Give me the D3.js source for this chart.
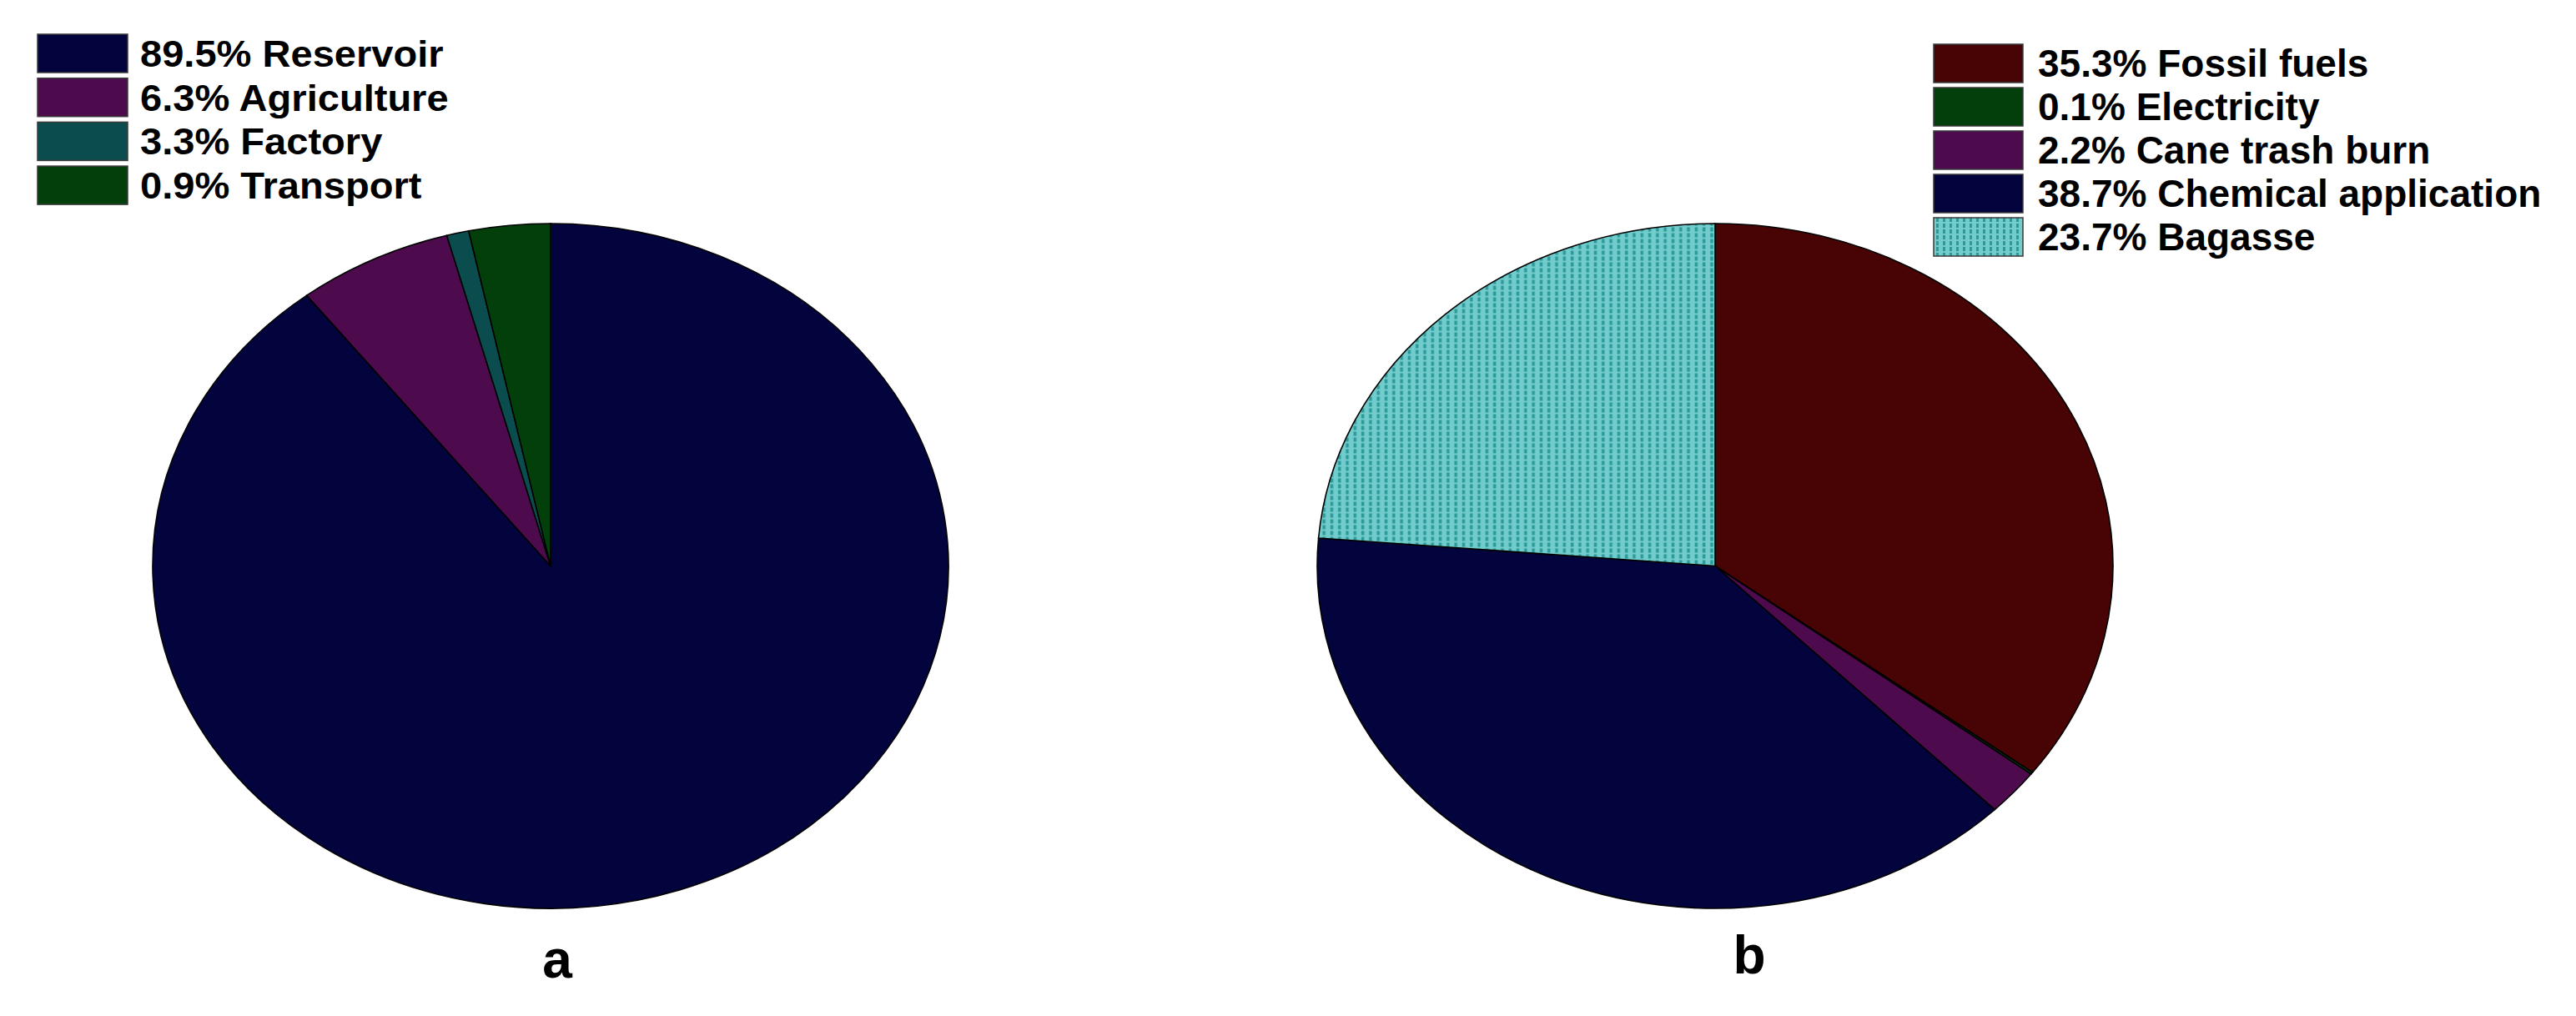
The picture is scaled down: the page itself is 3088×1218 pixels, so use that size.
<!DOCTYPE html>
<html>
<head>
<meta charset="utf-8">
<script src="https://cdn.jsdelivr.net/npm/d3@7"></script>
<style>
  html, body { margin: 0; padding: 0; background: #fff; }
  svg text { font-family: "Liberation Sans", Arial, sans-serif; font-weight: bold; fill: #000; }
</style>
</head>
<body>
<div id="chart"></div>
<script>
// PANEL A DATA
var labelsA = ["Reservoir", "Agriculture", "Factory", "Transport"];
var valuesA = [89.5, 6.3, 3.3, 0.9];
// order the slices appear clockwise from 12 o'clock (index into labelsA)
var sliceOrderA = [0, 1, 3, 2];

// PANEL B DATA
var labelsB = ["Fossil fuels", "Electricity", "Cane trash burn", "Chemical application", "Bagasse"];
var valuesB = [35.3, 0.1, 2.2, 38.7, 23.7];

var panelNames = ["a", "b"];

// SIZES
var width = 3088;
var height = 1218;
var rx = 477, ry = 410.5;

// colours by position (legend row i and i-th slice share a colour)
var colorsA = ["#03033e", "#4d0a4d", "#0b4c4e", "#033f0b"];
var colorsB = ["#480405", "#033f0b", "#4d0a4d", "#03033e", "url(#bagasse)"];

var svg = d3.select('#chart')
  .append('svg')
  .attr('width', width)
  .attr('height', height);

// dotted fill used for the bagasse slice
var defs = svg.append('defs');
var pat = defs.append('pattern')
  .attr('id', 'bagasse')
  .attr('patternUnits', 'userSpaceOnUse')
  .attr('width', 8)
  .attr('height', 7);
pat.append('rect').attr('width', 8).attr('height', 7).attr('fill', '#72cccc');
pat.append('rect').attr('x', 3).attr('y', 0).attr('width', 3).attr('height', 5).attr('fill', '#2c9a9a');

var pie = d3.pie()
  .sort(null)
  .value(function (d) { return d.value; });

var arc = d3.arc()
  .innerRadius(0)
  .outerRadius(ry);

function drawPie(cx, cy, slices, colors) {
  var g = svg.append('g')
    .attr('transform', 'translate(' + cx + ',' + cy + ') scale(' + (rx / ry) + ',1)');
  g.selectAll('path')
    .data(pie(slices))
    .enter()
    .append('path')
    .attr('d', arc)
    .attr('fill', function (d, i) { return colors[i]; })
    .attr('stroke', '#000')
    .attr('stroke-width', 1.6)
    .attr('vector-effect', 'non-scaling-stroke');
}

function drawLegend(x, y, labels, values, colors, opt) {
  var g = svg.append('g').attr('transform', 'translate(' + x + ',' + y + ')');
  var rows = g.selectAll('g')
    .data(labels)
    .enter()
    .append('g')
    .attr('transform', function (d, i) { return 'translate(0,' + (i * opt.pitch) + ')'; });
  rows.append('rect')
    .attr('width', opt.boxW)
    .attr('height', opt.boxH)
    .attr('fill', function (d, i) { return colors[i]; })
    .attr('stroke', '#3a3a3a')
    .attr('stroke-width', 1.5);
  rows.append('text')
    .attr('transform', 'translate(' + opt.textX + ',' + opt.baseline + ') scale(' + opt.stretch + ',1)')
    .attr('font-size', opt.fontSize)
    .text(function (d, i) { return values[i].toFixed(1) + '% ' + d; });
}

// panel a
var slicesA = sliceOrderA.map(function (k) { return { label: labelsA[k], value: valuesA[k] }; });
drawPie(660, 678.5, slicesA, colorsA);
drawLegend(45, 41, labelsA, valuesA, colorsA,
  { pitch: 52.7, boxW: 108, boxH: 46, textX: 123, baseline: 39, fontSize: 44, stretch: 1.07 });

// panel b
var slicesB = labelsB.map(function (l, i) { return { label: l, value: valuesB[i] }; });
drawPie(2056, 678.5, slicesB, colorsB);
drawLegend(2318, 53, labelsB, valuesB, colorsB,
  { pitch: 52, boxW: 107, boxH: 46, textX: 125, baseline: 39, fontSize: 46, stretch: 1.0 });

// panel letters
svg.selectAll('text.panel')
  .data(panelNames)
  .enter()
  .append('text')
  .attr('class', 'panel')
  .attr('x', function (d, i) { return i === 0 ? 668 : 2097; })
  .attr('y', function (d, i) { return i === 0 ? 1172 : 1167; })
  .attr('text-anchor', 'middle')
  .attr('font-size', 64)
  .text(function (d) { return d; });
</script>
</body>
</html>
